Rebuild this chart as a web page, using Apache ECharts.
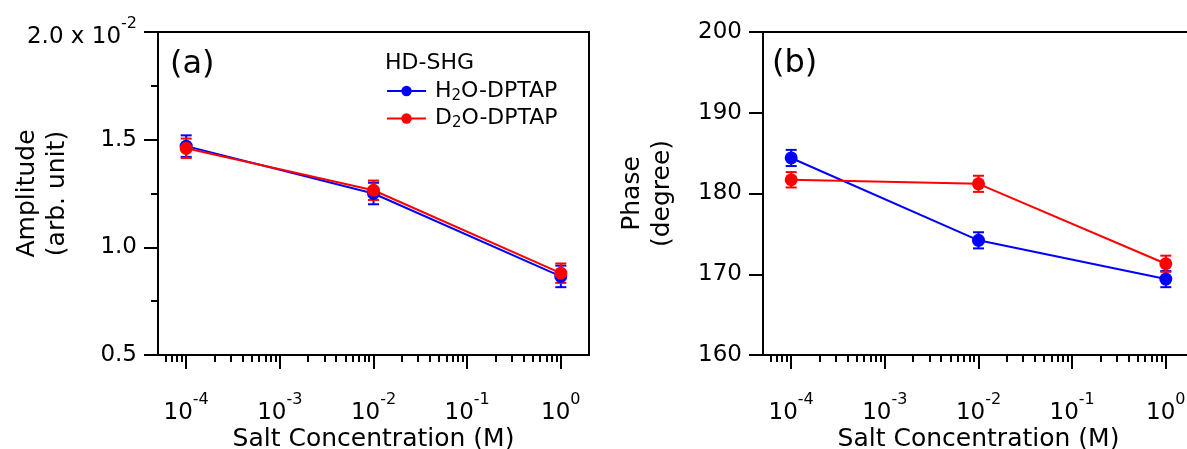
<!DOCTYPE html>
<html>
<head>
<meta charset="utf-8">
<script src="https://cdn.jsdelivr.net/npm/echarts@6/dist/echarts.min.js"></script>
<style>
  html, body { margin: 0; padding: 0; background: #fff; }
  #main { width: 1187px; height: 449px; }
</style>
</head>
<body>
<div id="main"></div>
<script>
// salt concentration (M)
var conc = [1e-4, 1e-2, 1];
// amplitude (x 10^-2)
var ampH2O = [1.47, 1.25, 0.865];
var ampH2OErr = [0.05, 0.05, 0.05];
var ampD2O = [1.46, 1.265, 0.88];
var ampD2OErr = [0.045, 0.045, 0.045];
// phase (degree)
var phaseH2O = [184.4, 174.2, 169.4];
var phaseH2OErr = [1.0, 1.0, 1.0];
var phaseD2O = [181.7, 181.2, 171.3];
var phaseD2OErr = [0.95, 1.0, 1.0];
// x tick labels (powers of ten)
var xDecades = [-4, -3, -2, -1, 0];
var seriesNames = ['H2O-DPTAP', 'D2O-DPTAP'];

var FONT = 'DejaVu Sans';
var BLUE = '#0000ff', RED = '#ff0000';
var xMin = Math.log10(5e-5), xMax = Math.log10(2);

// minor ticks at 2..9 x 10^n inside the axis range
var xMinor = [];
for (var d = -5; d <= 0; d++) {
    for (var k = 2; k <= 9; k++) {
        var v = Math.log10(k * Math.pow(10, d));
        if (v > xMin && v < xMax) xMinor.push(v);
    }
}

function pts(ys) {
    return conc.map(function (c, i) { return [Math.log10(c), ys[i]]; });
}
function errPts(ys, es) {
    return conc.map(function (c, i) { return [Math.log10(c), ys[i] - es[i], ys[i] + es[i]]; });
}

function errRender(color) {
    return function (params, api) {
        var x = api.value(0);
        var lo = api.coord([x, api.value(1)]);
        var hi = api.coord([x, api.value(2)]);
        var w = 5.5;
        var st = { stroke: color, lineWidth: 2 };
        return {
            type: 'group',
            children: [
                { type: 'line', shape: { x1: lo[0], y1: lo[1], x2: hi[0], y2: hi[1] }, style: st },
                { type: 'line', shape: { x1: hi[0] - w, y1: hi[1], x2: hi[0] + w, y2: hi[1] }, style: st },
                { type: 'line', shape: { x1: lo[0] - w, y1: lo[1], x2: lo[0] + w, y2: lo[1] }, style: st }
            ]
        };
    };
}

var supRich = {
    b: { fontFamily: FONT, fontSize: 23, verticalAlign: 'bottom', color: '#000' },
    sup: { fontFamily: FONT, fontSize: 16, verticalAlign: 'bottom', padding: [0, 0, 17, 0], color: '#000' }
};

function xAxes(g) {
    return [{
        type: 'value', gridIndex: g, min: xMin, max: xMax, position: 'bottom',
        name: 'Salt Concentration (M)', nameLocation: 'middle', nameGap: 72, nameMoveOverlap: false,
        nameTextStyle: { fontFamily: FONT, fontSize: 25, color: '#000' },
        axisLine: { onZero: false, lineStyle: { color: '#000', width: 2 } },
        axisTick: { customValues: xDecades, length: 14, lineStyle: { color: '#000', width: 2 } },
        axisLabel: {
            customValues: xDecades, margin: 37,
            formatter: function (v) { return '{b|10}{sup|' + Math.round(v) + '}'; },
            rich: supRich
        },
        splitLine: { show: false }
    }, {
        type: 'value', gridIndex: g, min: xMin, max: xMax, position: 'bottom',
        axisLine: { show: false, onZero: false },
        axisTick: { customValues: xMinor, length: 7, lineStyle: { color: '#000', width: 2 } },
        axisLabel: { show: false },
        splitLine: { show: false }
    }];
}

function lineSeries(name, data, color, g) {
    return {
        name: name, type: 'line', xAxisIndex: g * 2, yAxisIndex: g,
        data: data, symbol: 'circle', symbolSize: 13, showSymbol: true,
        lineStyle: { color: color, width: 2 }, itemStyle: { color: color },
        animation: false, z: 3
    };
}
function errSeries(data, color, g) {
    return {
        type: 'custom', xAxisIndex: g * 2, yAxisIndex: g,
        data: data, encode: { x: 0, y: [1, 2] },
        renderItem: errRender(color), animation: false, z: 3
    };
}

var gridStyle = { top: 32, width: 431, height: 323, show: true, borderColor: '#000', borderWidth: 2,
    backgroundColor: 'transparent', outerBoundsMode: 'none', containLabel: false };

var chart = echarts.init(document.getElementById('main'));
chart.setOption({
    backgroundColor: '#fff',
    textStyle: { fontFamily: FONT },
    grid: [
        Object.assign({ left: 158 }, gridStyle),
        Object.assign({ left: 763 }, gridStyle)
    ],
    xAxis: xAxes(0).concat(xAxes(1)),
    yAxis: [{
        type: 'value', gridIndex: 0, min: 0.5, max: 2.0, interval: 0.5,
        name: 'Amplitude\n(arb. unit)', nameLocation: 'middle', nameGap: 86, nameMoveOverlap: false,
        nameTextStyle: { fontFamily: FONT, fontSize: 25, lineHeight: 30, color: '#000' },
        axisLine: { onZero: false, lineStyle: { color: '#000', width: 2 } },
        axisTick: { length: 14, lineStyle: { color: '#000', width: 2 } },
        minorTick: { show: true, splitNumber: 2, length: 7, lineStyle: { color: '#000', width: 2 } },
        axisLabel: {
            margin: 21, fontFamily: FONT, fontSize: 23, color: '#000',
            formatter: function (v) {
                if (v === 2) return '{b|2.0 x 10}{sup|-2}';
                return v.toFixed(1);
            },
            rich: supRich
        },
        splitLine: { show: false }
    }, {
        type: 'value', gridIndex: 1, min: 160, max: 200, interval: 10,
        name: 'Phase\n(degree)', nameLocation: 'middle', nameGap: 86, nameMoveOverlap: false,
        nameTextStyle: { fontFamily: FONT, fontSize: 25, lineHeight: 30, color: '#000' },
        axisLine: { onZero: false, lineStyle: { color: '#000', width: 2 } },
        axisTick: { length: 14, lineStyle: { color: '#000', width: 2 } },
        axisLabel: { margin: 21, fontFamily: FONT, fontSize: 23, color: '#000' },
        splitLine: { show: false }
    }],
    legend: {
        data: seriesNames, orient: 'vertical', left: 386, top: 80, padding: 0,
        itemWidth: 39, itemHeight: 13, itemGap: 4,
        formatter: function (n) { return n.replace('2', '{sub|2}'); },
        textStyle: {
            fontFamily: FONT, fontSize: 22, color: '#000', padding: [0, 0, 0, 4],
            rich: {
                sub: { fontFamily: FONT, fontSize: 15, verticalAlign: 'bottom', padding: [10, 0, 0, 0], color: '#000' }
            }
        },
        selectedMode: false
    },
    graphic: [
        { type: 'text', left: 170, top: 49, style: { text: '(a)', fontFamily: FONT, fontSize: 32, fill: '#000' } },
        { type: 'text', left: 772, top: 48, style: { text: '(b)', fontFamily: FONT, fontSize: 32, fill: '#000' } },
        { type: 'text', left: 385, top: 52, style: { text: 'HD-SHG', fontFamily: FONT, fontSize: 22, fill: '#000' } }
    ],
    series: [
        errSeries(errPts(ampH2O, ampH2OErr), BLUE, 0),
        lineSeries(seriesNames[0], pts(ampH2O), BLUE, 0),
        errSeries(errPts(ampD2O, ampD2OErr), RED, 0),
        lineSeries(seriesNames[1], pts(ampD2O), RED, 0),
        errSeries(errPts(phaseH2O, phaseH2OErr), BLUE, 1),
        lineSeries(seriesNames[0], pts(phaseH2O), BLUE, 1),
        errSeries(errPts(phaseD2O, phaseD2OErr), RED, 1),
        lineSeries(seriesNames[1], pts(phaseD2O), RED, 1)
    ]
});
</script>
</body>
</html>
